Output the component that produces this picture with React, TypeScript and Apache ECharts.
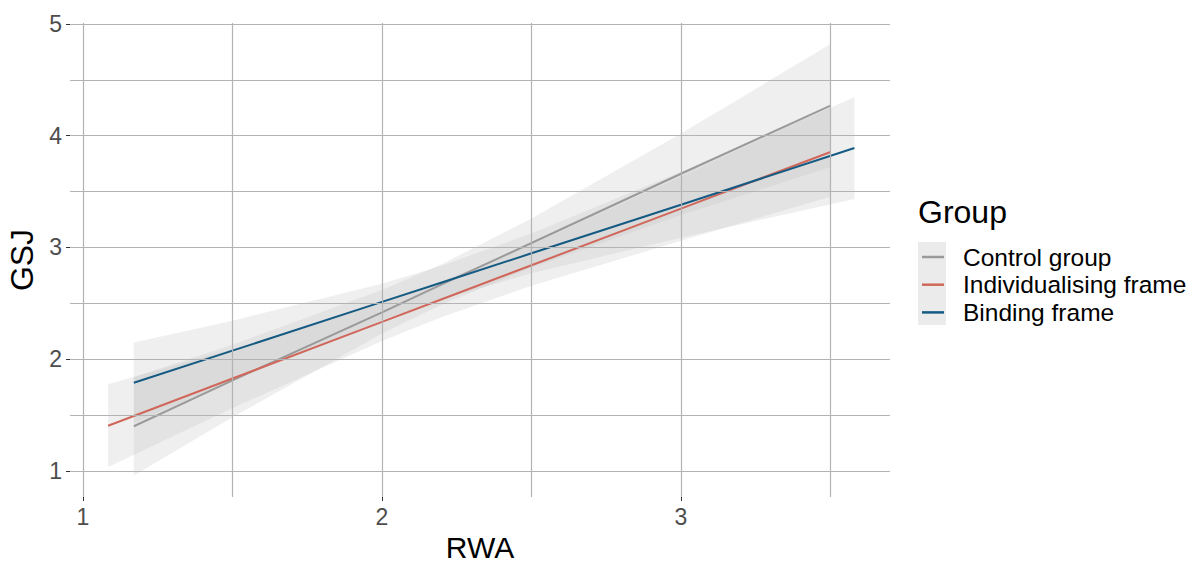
import React, { useEffect, useRef } from "react";
import * as echarts from "echarts";

const FONT = "'Liberation Sans', Arial, sans-serif";

const groups = ["Control group", "Individualising frame", "Binding frame"];
const groupColors = ["#9a9a9a", "#D0675A", "#145A82"];

const controlX = [1.17, 1.5, 2.0, 2.2, 2.5, 3.0, 3.5];
const controlFit = [1.40, 1.81, 2.42, 2.67, 3.04, 3.66, 4.27];
const controlLower = [0.96, 1.48, 2.23, 2.49, 2.82, 3.29, 3.72];
const controlUpper = [1.84, 2.13, 2.62, 2.85, 3.26, 4.02, 4.82];

const indivX = [1.084, 1.5, 2.0, 2.2, 2.5, 3.0, 3.5];
const indivFit = [1.405, 1.827, 2.334, 2.537, 2.841, 3.348, 3.855];
const indivLower = [1.035, 1.563, 2.163, 2.377, 2.657, 3.06, 3.455];
const indivUpper = [1.775, 2.091, 2.505, 2.697, 3.025, 3.636, 4.255];

const bindX = [1.17, 1.5, 2.0, 2.2, 2.5, 3.0, 3.58];
const bindFit = [1.79, 2.077, 2.513, 2.687, 2.948, 3.383, 3.89];
const bindLower = [1.43, 1.809, 2.35, 2.537, 2.77, 3.088, 3.435];
const bindUpper = [2.15, 2.345, 2.676, 2.837, 3.126, 3.678, 4.345];

const xTicks = [1, 2, 3];
const yTicks = [1, 2, 3, 4, 5];
const xGrid = [1, 1.5, 2, 2.5, 3, 3.5];
const yGrid = [1, 1.5, 2, 2.5, 3, 3.5, 4, 4.5, 5];

const X_MIN = 0.9565;
const X_MAX = 3.699;
const Y_MIN = 0.767;
const Y_MAX = 5.009;

function ribbon(name: string, xs: number[], lo: number[], hi: number[]) {
  return {
    type: "custom",
    name,
    z: 2,
    silent: true,
    data: xs.map((x, i) => [x, lo[i], hi[i]]),
    encode: { x: 0, y: [1, 2] },
    renderItem: (params: any, api: any) => {
      if (params.dataIndex !== 0) return null;
      const pts: number[][] = [];
      for (let i = 0; i < xs.length; i++) pts.push(api.coord([xs[i], hi[i]]));
      for (let i = xs.length - 1; i >= 0; i--) pts.push(api.coord([xs[i], lo[i]]));
      return {
        type: "polygon",
        shape: { points: pts },
        style: { fill: "rgba(191,191,191,0.25)", stroke: null },
      };
    },
  };
}

function fitLine(name: string, xs: number[], ys: number[], color: string) {
  return {
    type: "line",
    name,
    z: 3,
    silent: true,
    color,
    showSymbol: false,
    symbol: "none",
    data: xs.map((x, i) => [x, ys[i]]),
    lineStyle: { color, width: 2 },
  };
}

export default function App() {
  const ref = useRef<HTMLDivElement>(null);
  useEffect(() => {
    if (!ref.current) return;
    const chart = echarts.init(ref.current, undefined, { renderer: "svg" });
    const option: any = {
      animation: false,
      backgroundColor: "#ffffff",
      textStyle: { fontFamily: FONT },
      grid: { left: 70, top: 23, width: 820, height: 474, containLabel: false, outerBoundsMode: "none" },
      xAxis: {
        type: "value",
        min: X_MIN,
        max: X_MAX,
        name: "RWA",
        nameLocation: "middle",
        nameGap: 34,
        nameTextStyle: { fontSize: 30, color: "#000", fontFamily: FONT, lineHeight: 26 },
        axisLine: { show: false },
        splitLine: { show: false },
        axisTick: { show: true, length: 4, customValues: xTicks, lineStyle: { color: "#333", width: 1 } },
        axisLabel: { customValues: xTicks, fontSize: 23, color: "#4d4d4d", margin: 8, fontFamily: FONT },
      },
      yAxis: {
        type: "value",
        min: Y_MIN,
        max: Y_MAX,
        name: "GSJ",
        nameLocation: "middle",
        nameGap: 24,
        nameRotate: 90,
        nameTextStyle: { fontSize: 32, color: "#000", fontFamily: FONT },
        axisLine: { show: false },
        splitLine: { show: false },
        axisTick: { show: true, length: 4, customValues: yTicks, lineStyle: { color: "#333", width: 1 } },
        axisLabel: { customValues: yTicks, fontSize: 23, color: "#4d4d4d", margin: 8, fontFamily: FONT },
      },
      legend: {
        orient: "vertical",
        left: 917,
        top: 239.5,
        data: groups,
        icon: "rect",
        itemWidth: 22,
        itemHeight: 2.5,
        itemGap: 2.7,
        selectedMode: false,
        textStyle: { fontSize: 24.5, color: "#000", fontFamily: FONT, lineHeight: 25, padding: [0, 0, 0, 14] },
      },
      graphic: [
        { type: "rect", z: 0, shape: { x: 918, y: 242, width: 28, height: 83 }, style: { fill: "#ebebeb" } },
        { type: "text", z: 5, left: 918, top: 196, style: { text: "Group", fontSize: 32, fill: "#000", font: `32px ${FONT}` } },
      ],
      series: [
        {
          type: "line",
          name: "grid",
          z: 1,
          silent: true,
          data: [],
          markLine: {
            silent: true,
            symbol: "none",
            label: { show: false },
            lineStyle: { color: "#b3b3b3", width: 1.2, type: "solid" },
            emphasis: { disabled: true },
            data: [...xGrid.map((v) => ({ xAxis: v })), ...yGrid.map((v) => ({ yAxis: v }))],
          },
        },
        ribbon("Control ribbon", controlX, controlLower, controlUpper),
        ribbon("Individualising ribbon", indivX, indivLower, indivUpper),
        ribbon("Binding ribbon", bindX, bindLower, bindUpper),
        fitLine(groups[0], controlX, controlFit, groupColors[0]),
        fitLine(groups[1], indivX, indivFit, groupColors[1]),
        fitLine(groups[2], bindX, bindFit, groupColors[2]),
      ],
    };
    chart.setOption(option);
    return () => chart.dispose();
  }, []);
  return <div ref={ref} style={{ position: "fixed", left: 0, top: 0, width: 1197, height: 563 }} />;
}
